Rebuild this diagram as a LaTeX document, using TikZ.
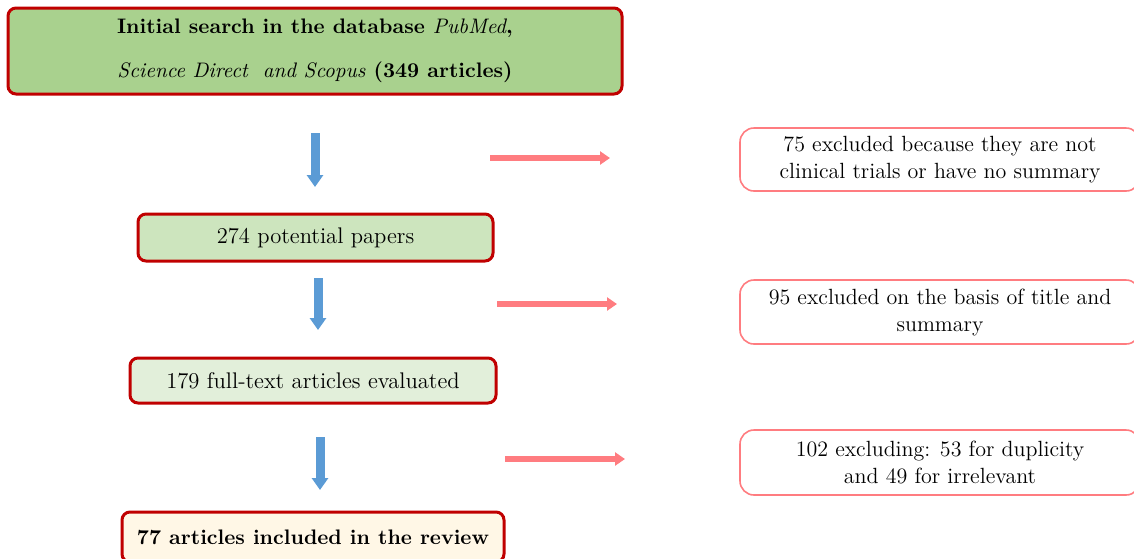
\documentclass[tikz,border=0pt]{standalone}
\usepackage{tikz}
\usetikzlibrary{arrows.meta, positioning}

\definecolor{boxred}{HTML}{C00000}
\definecolor{topgreen}{HTML}{A9D18E}
\definecolor{midgreen}{HTML}{CDE5BE}
\definecolor{palegreen}{HTML}{E2EFDA}
\definecolor{cream}{HTML}{FFF7E6}
\definecolor{excred}{HTML}{FF7C80}
\definecolor{downblue}{HTML}{5B9BD5}

\begin{document}
\begin{tikzpicture}[x=0.5pt,y=-0.5pt,>=Stealth,
   stage/.style={draw=boxred,line width=1.5pt,rounded corners=4pt,
     align=center,inner sep=0pt,font=\fontsize{11.3}{13}\selectfont},
   excl/.style={draw=excred,line width=0.8pt,fill=white,rounded corners=7pt,
     align=center,inner sep=0pt,minimum width=200pt,
     font=\fontsize{11}{13.5}\selectfont},
   down/.style={downblue,line width=4.5pt,-{Triangle[width=8pt,length=6pt]}},
   side/.style={excred,line width=3pt,-{Triangle[width=6.5pt,length=5pt]}}]
  \useasboundingbox (0,0) rectangle (1134,558);
  % main stages
  \node[stage,fill=topgreen,minimum width=307pt,minimum height=43pt,
        font=\fontsize{10.5}{22}\selectfont\bfseries] (search) at (315,51)
    {Initial search in the database \textit{\mdseries PubMed},\\
     \textit{\mdseries Science Direct\ \ and Scopus} (349 articles)};
  \node[stage,fill=midgreen,minimum width=177.5pt,minimum height=23.5pt]
    (potential) at (315.5,237.5) {274 potential papers};
  \node[stage,fill=palegreen,minimum width=183pt,minimum height=22.5pt]
    (fulltext) at (313,380.5) {179 full-text articles evaluated};
  \node[stage,fill=cream,minimum width=191pt,minimum height=25pt,
        font=\fontsize{10.5}{13}\selectfont\bfseries]
    (included) at (313,537) {77 articles included in the review};
  % exclusions
  \node[excl,minimum height=31.5pt] (excl1) at (940,159.5)
    {75 excluded because they are not\\clinical trials or have no summary};
  \node[excl,minimum height=32pt] (excl2) at (940,312)
    {95 excluded on the basis of title and\\summary};
  \node[excl,minimum height=32.5pt] (excl3) at (940,462.5)
    {102 excluding: 53 for duplicity\\and 49 for irrelevant};
  % arrow ends
  \coordinate (d1s) at (315,133);  \coordinate (d1e) at (315,187);
  \coordinate (d2s) at (318,278);  \coordinate (d2e) at (318,330);
  \coordinate (d3s) at (320,437);  \coordinate (d3e) at (320,490);
  \coordinate (s1s) at (490,158);  \coordinate (s1e) at (610,158);
  \coordinate (s2s) at (497,304);  \coordinate (s2e) at (617,304);
  \coordinate (s3s) at (505,459);  \coordinate (s3e) at (625,459);
  \foreach \a in {1,2,3} {
    \draw[down] (d\a s) -- (d\a e);
    \draw[side] (s\a s) -- (s\a e);
  }
\end{tikzpicture}
\end{document}
